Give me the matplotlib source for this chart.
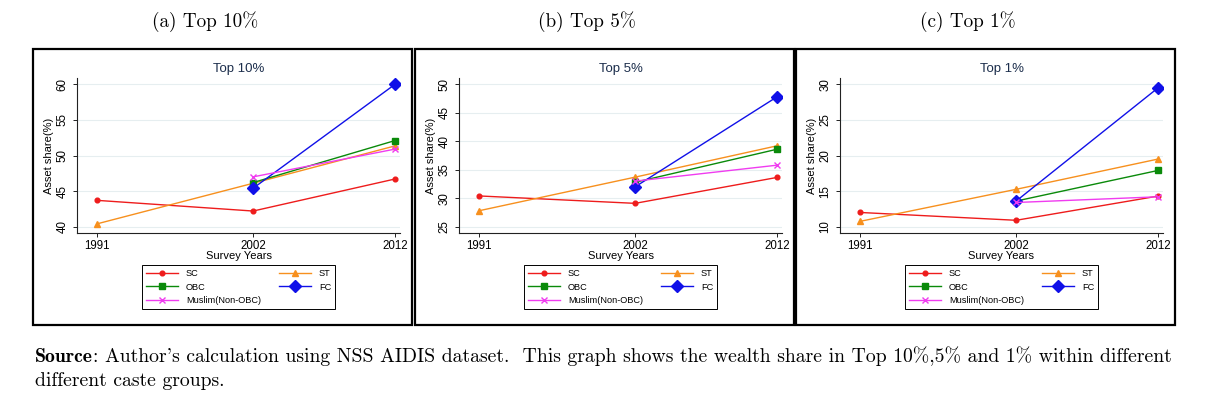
import numpy as np
import matplotlib.pyplot as plt
from matplotlib.patches import Rectangle
from matplotlib.text import Annotation

W, H = 1219, 399

years = [1991, 2002, 2012]
groups = ["SC", "ST", "OBC", "FC", "Muslim(Non-OBC)"]
nan = np.nan

# Top 10%
top10_sc = [43.7, 42.2, 46.7]
top10_st = [40.4, 46.1, 51.35]
top10_obc = [nan, 46.2, 52.1]
top10_fc = [nan, 45.4, 60.0]
top10_mus = [nan, 47.0, 50.9]

# Top 5%
top5_sc = [30.4, 29.1, 33.65]
top5_st = [27.8, 33.7, 39.2]
top5_obc = [nan, 32.8, 38.6]
top5_fc = [nan, 32.0, 47.8]
top5_mus = [nan, 33.0, 35.8]

# Top 1%
top1_sc = [12.0, 10.9, 14.3]
top1_st = [10.75, 15.25, 19.5]
top1_obc = [nan, 13.6, 17.9]
top1_fc = [nan, 13.6, 29.5]
top1_mus = [nan, 13.4, 14.2]

panel_data = [
    [top10_sc, top10_st, top10_obc, top10_fc, top10_mus],
    [top5_sc, top5_st, top5_obc, top5_fc, top5_mus],
    [top1_sc, top1_st, top1_obc, top1_fc, top1_mus],
]
panel_titles = ["Top 10%", "Top 5%", "Top 1%"]
captions = ["(a) Top 10%", "(b) Top 5%", "(c) Top 1%"]
yticks = [
    [40, 45, 50, 55, 60],
    [25, 30, 35, 40, 45, 50],
    [10, 15, 20, 25, 30],
]

colors = ["#ee1c1c", "#f7901e", "#0a8a0a", "#1010e8", "#f03cf0"]
markers = ["o", "^", "s", "D", "x"]
msizes = [3.4, 4.8, 4.4, 5.8, 4.2]

plt.rcParams["font.family"] = ["Liberation Sans", "DejaVu Sans"]

fig = plt.figure(figsize=(W / 100, H / 100), dpi=100)

box_lefts = [33, 415, 796]

for i in range(3):
    bl = box_lefts[i]
    fig.add_artist(Rectangle((bl / W, 1 - 325 / H), 379 / W, 276 / H,
                             transform=fig.transFigure, fill=False,
                             lw=1.6, ec="black"))
    fig.text((bl + 172) / W, 1 - 22 / H, captions[i], fontfamily="cmr10",
             fontsize=13.8, ha="center", va="center")

    ax = fig.add_axes([(bl + 44) / W, 1 - 233 / H, 323 / W, 155 / H])
    handles = []
    for k in range(5):
        h, = ax.plot(years, panel_data[i][k], color=colors[k], marker=markers[k],
                     ms=msizes[k], lw=1.0, mew=1.0, label=groups[k])
        handles.append(h)

    t = yticks[i]
    pad = (t[-1] - t[0]) * 6.3 / 142.4
    ax.set_ylim(t[0] - pad, t[-1] + pad)
    ax.set_xlim(1989.59, 2012.35)
    ax.set_yticks(t)
    ax.set_xticks(years)
    ax.grid(axis="y", color="#e6eef0", lw=0.8)
    ax.set_axisbelow(True)
    for s in ["top", "right"]:
        ax.spines[s].set_visible(False)
    for s in ["left", "bottom"]:
        ax.spines[s].set_color("#222222")
        ax.spines[s].set_linewidth(0.8)
    ax.tick_params(axis="both", length=3, width=0.7, color="#222222",
                   labelsize=8.3)
    ax.tick_params(axis="y", labelrotation=90, pad=3)
    ax.tick_params(axis="x", pad=2)
    plt.setp(ax.get_yticklabels(), va="center")

    ax.text(0.5, 1 + 9 / 155, panel_titles[i], transform=ax.transAxes,
            ha="center", va="center", fontsize=9.5, color="#1c2e4c")
    ax.text(-27.7 / 323, 0.5, "Asset share(%)", transform=ax.transAxes,
            rotation=90, ha="center", va="center", fontsize=8)
    ax.text(0.5, -22.7 / 155, "Survey Years", transform=ax.transAxes,
            ha="center", va="center", fontsize=8)

    order = [0, 2, 4, 1, 3]
    leg = ax.legend([handles[k] for k in order], [groups[k] for k in order],
                    loc="upper left",
                    bbox_to_anchor=((bl + 108.7) / W, 1 - 265 / H, 193.3 / W, 0),
                    bbox_transform=fig.transFigure, mode="expand", ncol=2,
                    fontsize=6.6, handlelength=3.5, handletextpad=0.9,
                    labelspacing=0.52, borderpad=0.42, borderaxespad=0,
                    fancybox=False, framealpha=1, edgecolor="black")
    leg.get_frame().set_linewidth(0.7)

src = fig.text(35 / W, 1 - 357 / H, "Source", fontfamily="cmb10",
               fontsize=14.2, va="center")
rest = Annotation(": Author's calculation using NSS AIDIS dataset.  This graph shows "
                  "the wealth share in Top 10%,5% and 1% within different",
                  xy=(1, 0), xycoords=src, ha="left", va="bottom",
                  fontfamily="cmr10", fontsize=14.2)
fig.add_artist(rest)
fig.text(35 / W, 1 - 381 / H, "different caste groups.", fontfamily="cmr10",
         fontsize=14.2, va="center")

fig.savefig("out.png", dpi=100)
